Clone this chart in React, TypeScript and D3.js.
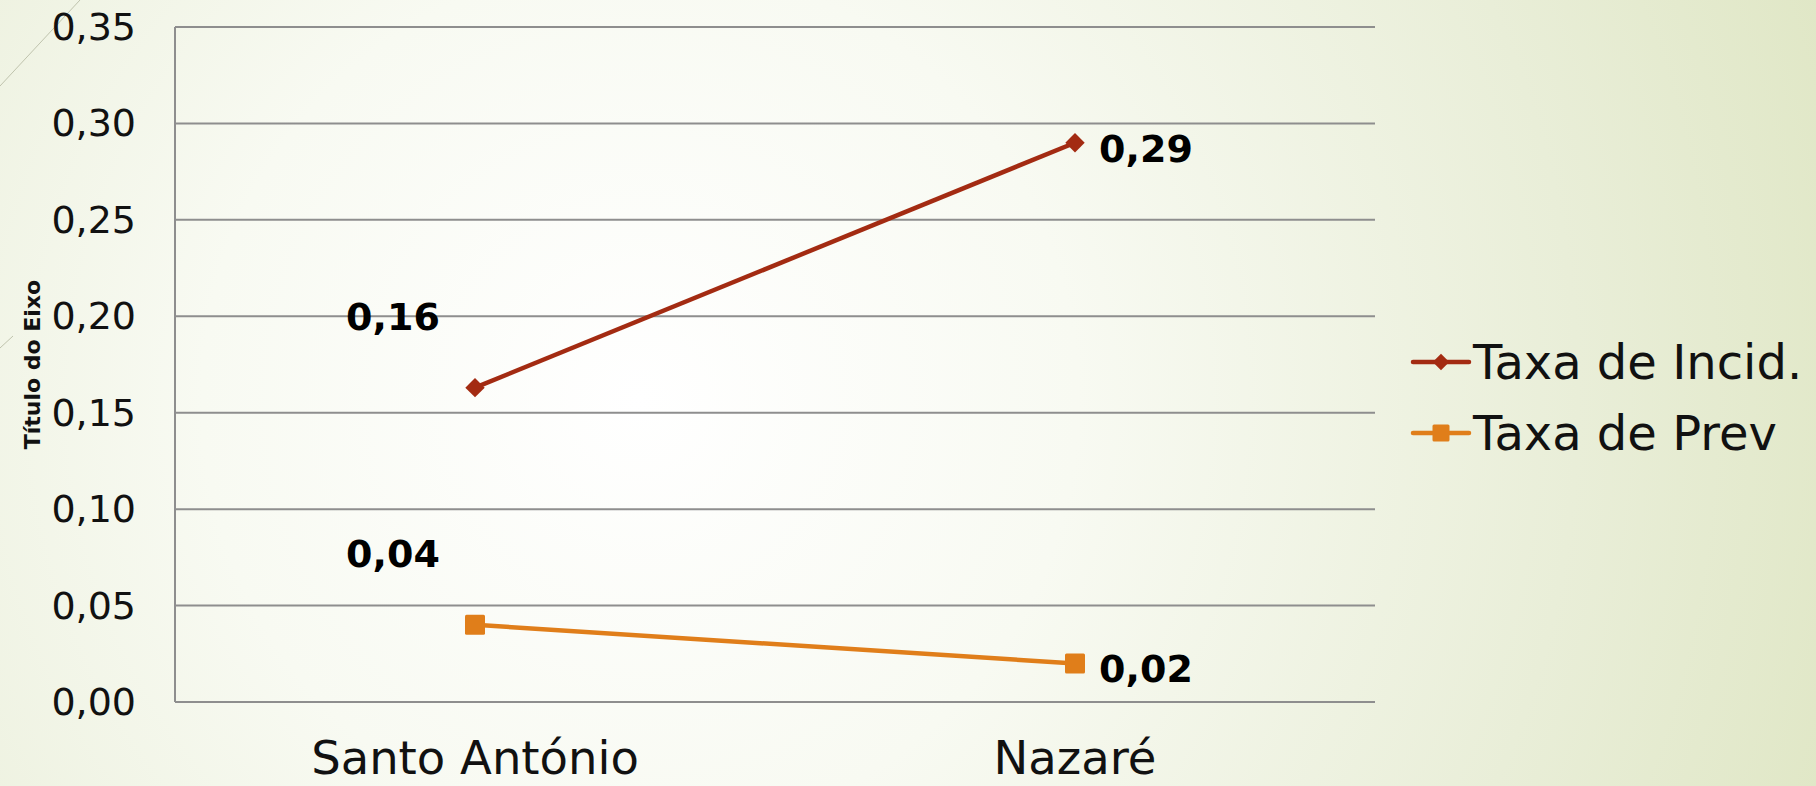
import React from "react";
import * as d3 from "d3";

const categories = ["Santo António", "Nazaré"];
const seriesNames = ["Taxa de Incid.", "Taxa de Prev"];
const incidValues = [0.163, 0.29];
const prevValues = [0.04, 0.02];
const yTicks = [0, 0.05, 0.1, 0.15, 0.2, 0.25, 0.3, 0.35];
const labelPlacement = ["aboveLeft", "right"];

const W = 1816;
const H = 786;
const FONT = "'DejaVu Sans', sans-serif";
const COLORS = ["#A32B12", "#E07E1A"];

export default function App() {
  const x = d3.scalePoint<string>().domain(categories).range([175, 1375]).padding(0.5);
  const y = d3.scaleLinear().domain([0, 0.35]).range([702, 27]);
  const fmt = (v: number) => d3.format(".2f")(v).replace(".", ",");
  const series = [incidValues, prevValues];
  const line = d3
    .line<number>()
    .x((_, i) => x(categories[i]) as number)
    .y((d) => y(d));

  const diamond = d3.symbol().type(d3.symbolDiamond2).size(240)();

  const marker = (s: number, cx: number, cy: number, key: string, scale = 1) =>
    s === 0 ? (
      <path key={key} d={diamond as string} transform={`translate(${cx},${cy}) scale(${scale})`} fill={COLORS[0]} />
    ) : (
      <rect key={key} x={cx - 10 * scale} y={cy - 10 * scale} width={20 * scale} height={20 * scale} rx={1.5} fill={COLORS[1]} />
    );

  const legendX = 1413;
  const legendY = [362, 433];

  return (
    <svg
      width={W}
      height={H}
      style={{ position: "absolute", left: 0, top: 0, display: "block" }}
      fontFamily={FONT}
    >
      <defs>
        <radialGradient id="bg" cx="640" cy="400" r="1250" gradientUnits="userSpaceOnUse">
          <stop offset="0" stopColor="#ffffff" />
          <stop offset="0.35" stopColor="#f8faf2" />
          <stop offset="0.75" stopColor="#e9eed8" />
          <stop offset="1" stopColor="#e0e7c6" />
        </radialGradient>
      </defs>
      <rect x={0} y={0} width={W} height={H} fill="url(#bg)" />
      <line x1={0} y1={86} x2={80} y2={0} stroke="#bfc3ad" strokeWidth={1} />
      <line x1={0} y1={348} x2={13} y2={336} stroke="#bfc3ad" strokeWidth={1} />

      {yTicks.map((t) => (
        <g key={t}>
          <line x1={175} x2={1375} y1={y(t)} y2={y(t)} stroke="#8e8e8e" strokeWidth={2} />
          <text x={136} y={y(t)} textAnchor="end" dominantBaseline="central" fontSize={38} fill="#111">
            {fmt(t)}
          </text>
        </g>
      ))}
      <line x1={175} x2={175} y1={y(0.35)} y2={y(0)} stroke="#8e8e8e" strokeWidth={2} />

      <text
        transform={`translate(32,${(y(0) + y(0.35)) / 2}) rotate(-90)`}
        textAnchor="middle"
        dominantBaseline="central"
        fontSize={22}
        fontWeight="bold"
        fill="#111"
      >
        Título do Eixo
      </text>

      {categories.map((c) => (
        <text key={c} x={x(c)} y={774} textAnchor="middle" fontSize={46.5} fill="#111">
          {c}
        </text>
      ))}

      {series.map((vals, s) => (
        <g key={s}>
          <path d={line(vals) as string} fill="none" stroke={COLORS[s]} strokeWidth={4.5} />
          {vals.map((v, i) => marker(s, x(categories[i]) as number, y(v), `m${s}${i}`))}
          {vals.map((v, i) => {
            const cx = x(categories[i]) as number;
            const cy = y(v);
            const above = labelPlacement[i] === "aboveLeft";
            return (
              <text
                key={`l${s}${i}`}
                x={above ? cx - 82 : cx + 71}
                y={above ? cy - 71 : cy + 6}
                textAnchor="middle"
                dominantBaseline="central"
                fontSize={38}
                fontWeight="bold"
                fill="#000"
              >
                {fmt(v)}
              </text>
            );
          })}
        </g>
      ))}

      {seriesNames.map((n, s) => (
        <g key={n}>
          <line x1={legendX} x2={legendX + 56} y1={legendY[s]} y2={legendY[s]} stroke={COLORS[s]} strokeWidth={4.5} strokeLinecap="round" />
          {marker(s, legendX + 28, legendY[s], `lg${s}`, 0.85)}
          <text x={legendX + 60} y={legendY[s]} dominantBaseline="central" fontSize={48} fill="#111">
            {n}
          </text>
        </g>
      ))}
    </svg>
  );
}
